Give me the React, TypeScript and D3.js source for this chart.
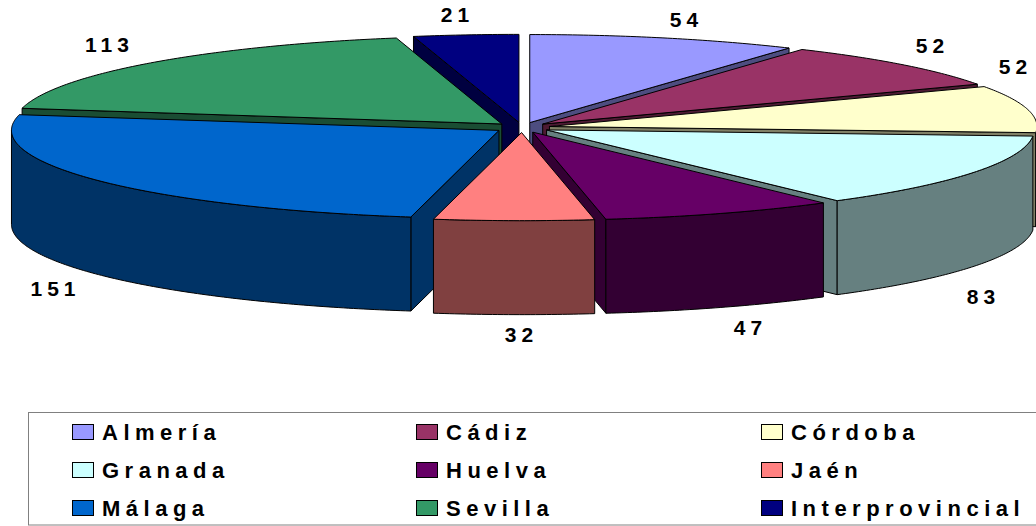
import React from "react";
import * as d3 from "d3";

const categories = ["Almería", "Cádiz", "Córdoba", "Granada", "Huelva", "Jaén", "Málaga", "Sevilla", "Interprovincial"];
const values = [54, 52, 52, 83, 47, 32, 151, 113, 21];
const topColors = ["#9999FF", "#993366", "#FFFFCC", "#CCFFFF", "#660066", "#FF8080", "#0066CC", "#339966", "#000080"];
const sideColors = ["#4D4D80", "#4D1A33", "#808066", "#668080", "#330033", "#804040", "#003366", "#1A4D33", "#000040"];
const paintOrder = [0, 8, 1, 7, 2, 6, 3, 4, 5];
const labelCenters: [number, number][] = [[684, 20], [930, 46], [1013, 67], [981, 297], [748, 328], [519, 335], [53, 289], [107, 45], [455, 15]];

const W = 1036, H = 526;
const cx = 522, cy = 127.5, rx = 487.5, tilt = 88 / 487, explode = 28, depth = 94;

const x = d3.scaleLinear().domain([-1, 1]).range([cx - 1, cx + 1]);
const y = d3.scaleLinear().domain([-1, 1]).range([cy - tilt, cy + tilt]);
const line = d3.line();
const pie = d3.pie<number>().sort(null).startAngle(0).endAngle(2 * Math.PI);

type P = [number, number];

function pt(a: number, r: number, ox: number, oy: number, dz = 0): P {
  return [x(r * Math.sin(a)) + ox, y(-r * Math.cos(a)) + oy + dz];
}

function rimPts(a0: number, a1: number, ox: number, oy: number, dz = 0): P[] {
  const n = Math.max(2, Math.ceil(Math.abs(a1 - a0) * 90));
  return d3.range(n + 1).map((i) => pt(a0 + ((a1 - a0) * i) / n, rx, ox, oy, dz));
}

function closed(points: P[]) {
  return (line(points) ?? "") + "Z";
}

const ticks = pie(values);

function Slice({ i }: { i: number }) {
  const { startAngle: a0, endAngle: a1 } = ticks[i];
  const mid = (a0 + a1) / 2;
  const ox = explode * Math.sin(mid);
  const oy = -explode * tilt * Math.cos(mid);
  const apex = pt(0, 0, ox, oy);
  const apexLow = pt(0, 0, ox, oy, depth);
  const faces: string[] = [];
  if (Math.sin(a0) < -1e-6) {
    faces.push(closed([apex, pt(a0, rx, ox, oy), pt(a0, rx, ox, oy, depth), apexLow]));
  }
  if (Math.sin(a1) > 1e-6) {
    faces.push(closed([apex, pt(a1, rx, ox, oy), pt(a1, rx, ox, oy, depth), apexLow]));
  }
  const lo = Math.max(a0, Math.PI / 2);
  const hi = Math.min(a1, (3 * Math.PI) / 2);
  const wall =
    hi > lo
      ? closed([...rimPts(lo, hi, ox, oy), ...rimPts(hi, lo, ox, oy, depth)])
      : null;
  const top = closed([apex, ...rimPts(a0, a1, ox, oy)]);
  const edge = { stroke: "#000", strokeWidth: 1, strokeLinejoin: "round" as const };
  return (
    <g>
      {faces.map((d, k) => (
        <path key={k} d={d} fill={sideColors[i]} {...edge} />
      ))}
      {wall && <path d={wall} fill={sideColors[i]} {...edge} />}
      <path d={top} fill={topColors[i]} {...edge} />
    </g>
  );
}

const legendCols = [72, 416, 761];
const legendRows = [432, 470, 508];
const font = "'Liberation Sans', Arial, sans-serif";

export default function App() {
  return (
    <svg
      width={W}
      height={H}
      viewBox={`0 0 ${W} ${H}`}
      style={{ position: "absolute", left: 0, top: 0, display: "block", background: "#fff" }}
    >
      {paintOrder.map((i) => (
        <Slice key={i} i={i} />
      ))}
      {values.map((v, i) => (
        <text
          key={i}
          x={labelCenters[i][0] + 2.5}
          y={labelCenters[i][1] + 7}
          textAnchor="middle"
          fontFamily={font}
          fontWeight="bold"
          fontSize={21}
          letterSpacing={5}
          fill="#000"
        >
          {v}
        </text>
      ))}
      <rect x={28.5} y={412.5} width={1020} height={112.5} fill="#fff" stroke="#808080" strokeWidth={1} />
      {categories.map((c, i) => {
        const lx = legendCols[i % 3];
        const ly = legendRows[Math.floor(i / 3)];
        return (
          <g key={c}>
            <rect x={lx + 0.5} y={ly - 7.5} width={21} height={15} fill={topColors[i]} stroke="#000" strokeWidth={1} />
            <text
              x={lx + 30}
              y={ly + 8}
              fontFamily={font}
              fontWeight="bold"
              fontSize={22}
              letterSpacing={5.5}
              fill="#000"
            >
              {c}
            </text>
          </g>
        );
      })}
    </svg>
  );
}
